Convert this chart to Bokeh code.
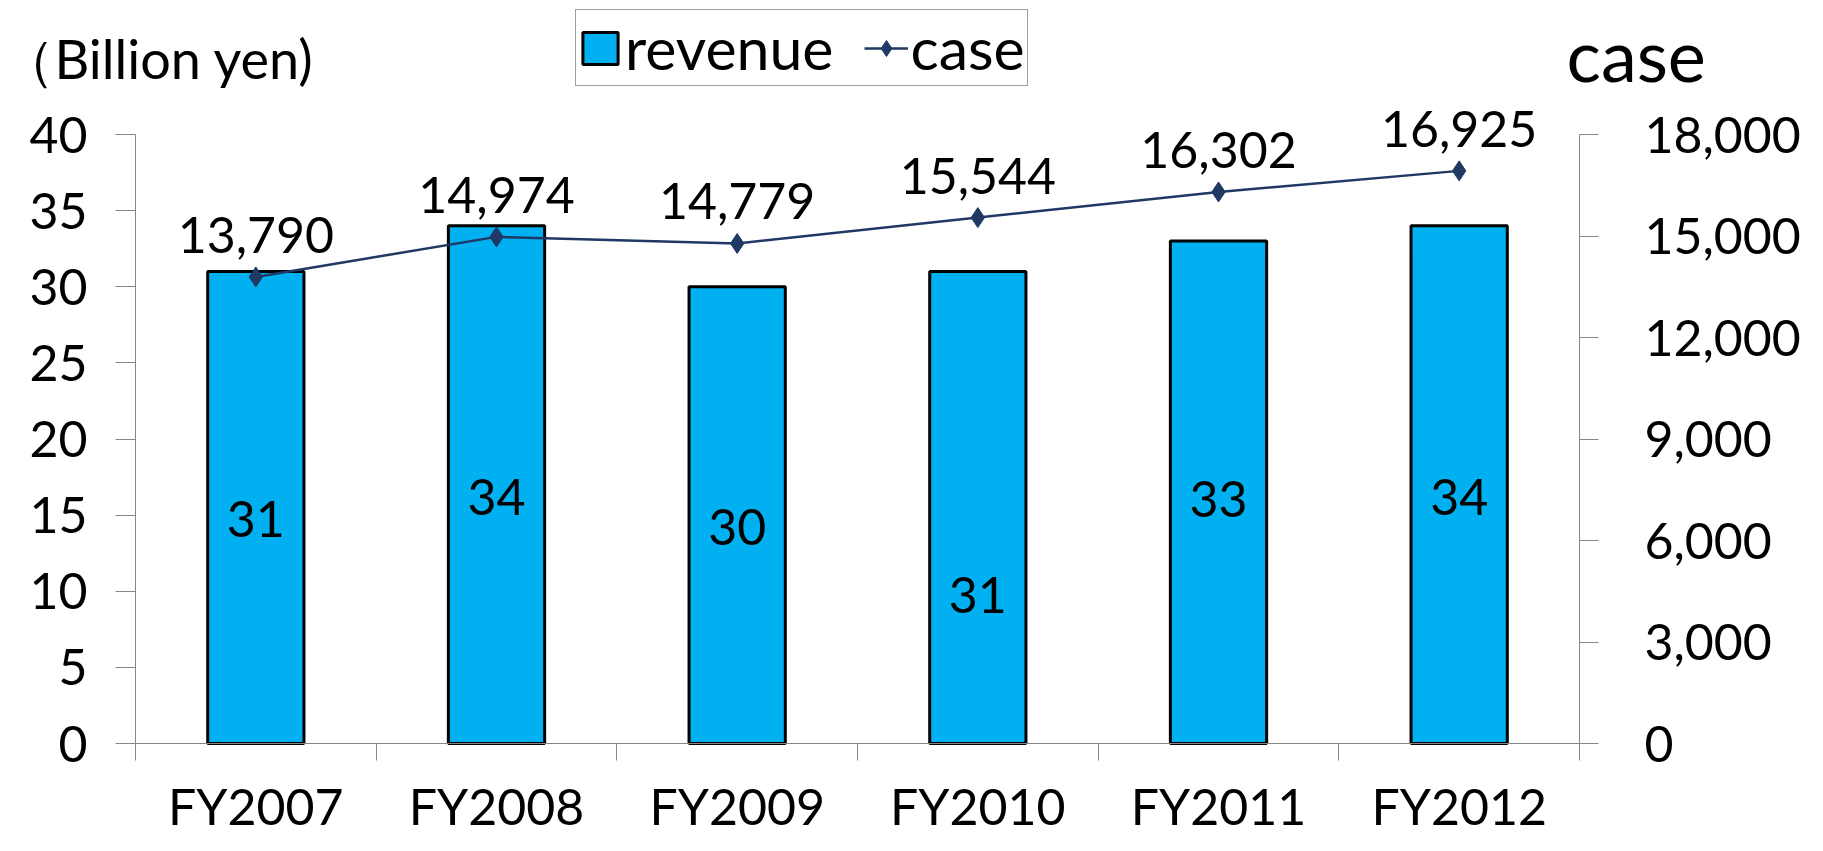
from bokeh.plotting import figure
from bokeh.models import (Range1d, LinearAxis, FixedTicker, NumeralTickFormatter,
                          ColumnDataSource, LabelSet, Label, Legend, LegendItem)
from bokeh.core.properties import value
from bokeh.embed import file_html
from bokeh.resources import INLINE

# ---- data ----
categories = ["FY2007", "FY2008", "FY2009", "FY2010", "FY2011", "FY2012"]
revenue = [31, 34, 30, 31, 33, 34]
cases = [13790, 14974, 14779, 15544, 16302, 16925]
left_ticks = [0, 5, 10, 15, 20, 25, 30, 35, 40]
right_ticks = [0, 3000, 6000, 9000, 12000, 15000, 18000]
LEFT_MAX = 40
RIGHT_MAX = 18000

# ---- style / layout ----
FONT = "Lato"
FS = "50px"
BLUE = "#00B0F0"
NAVY = "#1F3864"
GRAY = "#868686"
label_frac = [0.49, 0.49, 0.49, 0.33, 0.50, 0.49]  # label height inside each bar

W, H = 1807, 835
AX_L, AX_R = 135, 1579      # pixel x of the left / right value axes
Y_TOP, Y_BOT = 134, 743     # pixel y of the max / zero
n = len(categories)
px_x = (AX_R - AX_L) / n
px_y = (Y_BOT - Y_TOP) / LEFT_MAX
x_start = -AX_L / px_x
x_end = (W - AX_L) / px_x
y_end = LEFT_MAX + Y_TOP / px_y
y_start = -(H - Y_BOT) / px_y
ratio = RIGHT_MAX / LEFT_MAX

x = [i + 0.5 for i in range(n)]
src = ColumnDataSource(dict(
    x=x, cat=categories, rev=revenue, case=cases,
    case_txt=[f"{c:,}" for c in cases],
    rev_txt=[str(r) for r in revenue],
    rev_lab=[r * f for r, f in zip(revenue, label_frac)],
))

p = figure(width=W, height=H, output_backend="svg", toolbar_location=None,
           x_range=Range1d(x_start, x_end), y_range=Range1d(y_start, y_end),
           x_axis_type=None, y_axis_type=None,
           min_border_left=0, min_border_right=0,
           min_border_top=0, min_border_bottom=0)
p.extra_y_ranges = {"cases": Range1d(y_start * ratio, y_end * ratio)}
p.outline_line_color = None
p.background_fill_color = "white"
p.border_fill_color = "white"


def style_axis(ax, tick_out, standoff):
    ax.axis_line_color = GRAY
    ax.axis_line_width = 1
    ax.major_tick_line_color = GRAY
    ax.major_tick_line_width = 1
    ax.major_tick_out = tick_out
    ax.major_tick_in = 0
    ax.minor_tick_line_color = None
    ax.major_label_text_font = FONT
    ax.major_label_text_font_size = FS
    ax.major_label_text_color = "black"
    ax.major_label_standoff = standoff


yl = LinearAxis(ticker=FixedTicker(ticks=left_ticks), fixed_location=0,
                bounds=(0, LEFT_MAX))
style_axis(yl, 20, 28)
p.add_layout(yl, "left")

yr = LinearAxis(y_range_name="cases", ticker=FixedTicker(ticks=right_ticks),
                formatter=NumeralTickFormatter(format="0,0"),
                fixed_location=n, bounds=(0, RIGHT_MAX))
style_axis(yr, 19, 46)
p.add_layout(yr, "right")

xb = LinearAxis(ticker=FixedTicker(ticks=x, minor_ticks=list(range(n + 1))),
                fixed_location=0, bounds=(0, n),
                major_label_overrides={xi: c for xi, c in zip(x, categories)})
style_axis(xb, 0, 15)
xb.minor_tick_line_color = GRAY
xb.minor_tick_out = 17
xb.minor_tick_in = 0
p.add_layout(xb, "below")

bars = p.vbar(x="x", top="rev", width=0.4, source=src, fill_color=BLUE,
              line_color="black", line_width=3)
line = p.line("x", "case", source=src, y_range_name="cases",
              line_color=NAVY, line_width=2.5)
pts = p.scatter("x", "case", source=src, y_range_name="cases", marker="diamond",
                size=20, fill_color=NAVY, line_color=NAVY)

# bar value labels
p.add_layout(LabelSet(x="x", y="rev_lab", text="rev_txt", source=src,
                      y_offset=-7,
                      text_font=value(FONT), text_font_size=value(FS),
                      text_color="black", text_align="center",
                      text_baseline="middle"))
# case labels
p.add_layout(LabelSet(x="x", y="case", text="case_txt", source=src,
                      y_range_name="cases", y_offset=24,
                      text_font=value(FONT), text_font_size=value(FS),
                      text_color="black", text_align="center",
                      text_baseline="alphabetic"))

# axis titles
p.add_layout(Label(x=0, y=H - 58, x_units="screen", y_units="screen",
                   text="（Billion yen)", text_font=FONT,
                   text_font_size="54px", text_color="black", text_align="left",
                   text_baseline="alphabetic"))
p.add_layout(Label(x=1566, y=H - 53, x_units="screen", y_units="screen",
                   text="case", text_font=FONT,
                   text_font_size="72px", text_color="black", text_align="left",
                   text_baseline="alphabetic"))

legend = Legend(items=[LegendItem(label="revenue", renderers=[bars]),
                       LegendItem(label="case", renderers=[line, pts])],
                orientation="horizontal", location=(575, H - 86),
                label_text_font=FONT, label_text_font_size="59px",
                label_text_color="black",
                glyph_width=44, glyph_height=40, label_standoff=3, spacing=30,
                padding=2, margin=0, border_line_color="#404040",
                border_line_width=1, background_fill_color="white",
                background_fill_alpha=1)
p.add_layout(legend, "center")

open("out.html", "w").write(file_html(p, INLINE))
